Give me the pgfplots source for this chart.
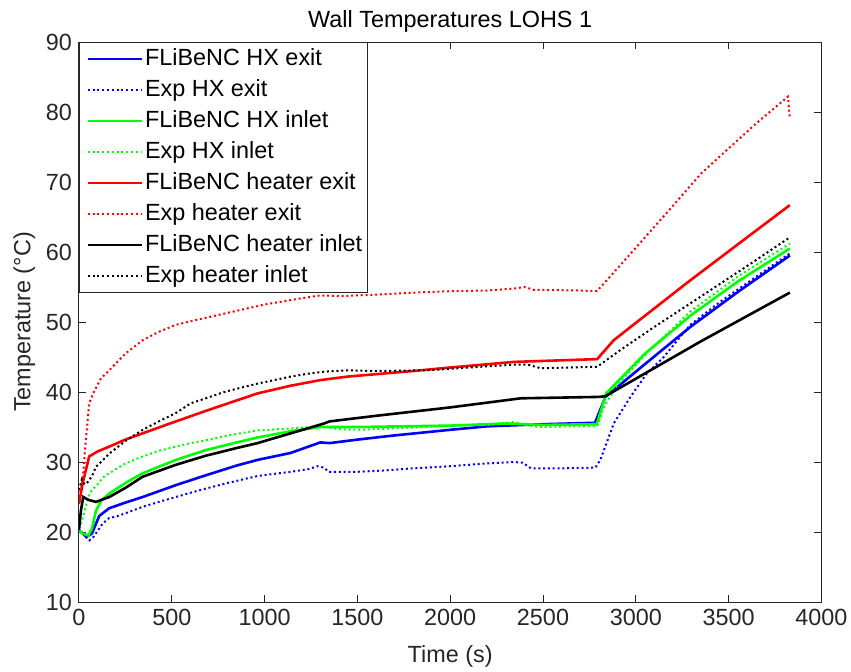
\documentclass[border=0pt]{standalone}
\usepackage{fontspec}
\setmainfont{Liberation Sans}
\usepackage{pgfplots}
\pgfplotsset{compat=1.18}
\definecolor{axgray}{RGB}{38,38,38}
\definecolor{mblue}{RGB}{0,0,255}
\definecolor{mgreen}{RGB}{0,255,0}
\definecolor{mred}{RGB}{255,0,0}
\newcommand{\ff}{\fontsize{11.7}{14}\selectfont}
\begin{document}
\begin{tikzpicture}
\useasboundingbox (-39.5pt,-34.5pt) rectangle (386pt,301pt);
\begin{axis}[
  at={(0,0)}, anchor=south west,
  scale only axis, width=371.2pt, height=280pt,
  xmin=0, xmax=4000, ymin=10, ymax=90,
  xtick={0,500,...,4000}, ytick={10,20,...,90},
  tick align=inside, major tick length=3.7pt,
  axis line style={axgray, line width=0.5pt},
  every tick/.style={axgray, line width=0.5pt},
  tick label style={font=\ff, text=axgray},
  /pgf/number format/assume math mode=true,
  /pgf/number format/1000 sep={},
  scaled ticks=false,
  title={Wall Temperatures LOHS 1},
  every axis title/.style={at={([yshift=7.3pt]axis description cs:0.5,1)}, anchor=base, font=\ff, text=black, inner sep=0pt},
  xlabel={Time (s)},
  every axis x label/.style={at={([yshift=-30pt]axis description cs:0.5,0)}, anchor=base, font=\ff, text=axgray, inner sep=0pt},
  ylabel={Temperature (°C)},
  every axis y label/.style={at={([xshift=-24.3pt]axis description cs:0,0.5)}, rotate=90, anchor=base, font=\ff, text=axgray, inner sep=0pt},
  legend cell align=left,
  legend style={at={(0,1)}, anchor=north west, draw=axgray, line width=0.5pt, fill=white,
    font=\ff, text=black, inner xsep=1.4pt, inner ysep=0.5pt, row sep=0pt,
    nodes={text height=8.7pt, text depth=2.6pt, inner ysep=2.1pt, inner xsep=1pt}},
  legend image code/.code={\path (0pt,0pt); \draw[#1] (2.1pt,0pt) -- (29.1pt,0pt);},
  solid line/.style={line width=1.3pt, solid},
  dot line/.style={line width=1pt, dash pattern=on 1pt off 1.4pt},
]
% FLiBeNC HX exit
\addplot[mblue, solid line] coordinates {
(0,20.2) (20,19.8) (40,19.3) (70,19.8) (109,22.3) (163,23.4) (250,24.2) (343,25.0) (522,26.7) (683,28.1) (850,29.5) (962,30.3) (1141,31.3) (1300,32.8) (1350,32.7) (1500,33.2) (1700,33.8) (2000,34.6) (2200,35.1) (2500,35.4) (2780,35.6) (2836,39.3) (3050,44.0) (3294,49.3) (3550,54.3) (3830,59.5)
};
\addlegendentry{FLiBeNC HX exit}
% Exp HX exit
\addplot[mblue, dot line] coordinates {
(0,20.3) (30,19.5) (55,18.8) (75,19.2) (91,19.8) (127,21.2) (163,22.0) (200,22.2) (253,22.7) (343,23.6) (430,24.3) (522,25.0) (600,25.6) (683,26.2) (800,27.0) (962,28.0) (1050,28.3) (1141,28.6) (1240,29.0) (1285,29.4) (1320,29.2) (1345,28.6) (1500,28.6) (1650,28.8) (1800,29.1) (2000,29.4) (2200,29.8) (2343,30.0) (2390,29.9) (2435,29.1) (2600,29.1) (2782,29.2) (2809,30.3) (2881,35.5) (2971,39.3) (3061,42.7) (3151,45.0) (3240,47.9) (3294,49.6) (3450,52.8) (3650,56.5) (3830,59.8)
};
\addlegendentry{Exp HX exit}
% FLiBeNC HX inlet
\addplot[mgreen, solid line] coordinates {
(0,20.2) (20,19.8) (50,19.5) (70,20.5) (91,23.0) (120,24.5) (163,25.5) (250,27.0) (343,28.4) (522,30.3) (683,31.7) (850,32.8) (962,33.5) (1141,34.4) (1300,35.0) (1500,35.0) (2000,35.2) (2300,35.5) (2500,35.3) (2790,35.4) (2840,39.8) (3050,45.5) (3294,50.9) (3550,55.8) (3830,60.5)
};
\addlegendentry{FLiBeNC HX inlet}
% Exp HX inlet
\addplot[mgreen, dot line] coordinates {
(0,20.5) (15,21.5) (30,23) (50,25) (70,26) (100,26.8) (130,27.8) (163,28.4) (250,29.8) (343,30.8) (430,31.6) (522,32.2) (600,32.7) (683,33.1) (800,33.8) (962,34.5) (1141,34.8) (1300,35.1) (1400,34.7) (1500,34.6) (1700,34.8) (2000,35.2) (2200,35.3) (2343,35.7) (2420,35.2) (2487,35.0) (2650,35.1) (2792,35.1) (2830,38.0) (2900,41.0) (3050,45.3) (3294,51.5) (3550,56.5) (3830,61.2)
};
\addlegendentry{Exp HX inlet}
% FLiBeNC heater exit
\addplot[mred, solid line] coordinates {
(0,24.0) (20,27.0) (55,30.8) (100,31.5) (163,32.2) (250,33.2) (343,34.1) (522,35.8) (683,37.3) (850,38.8) (962,39.8) (1141,40.9) (1300,41.7) (1446,42.2) (1800,43.0) (2000,43.5) (2343,44.3) (2792,44.7) (2881,47.4) (3276,55.6) (3550,61.1) (3830,66.7)
};
\addlegendentry{FLiBeNC heater exit}
% Exp heater exit
\addplot[mred, dot line] coordinates {
(0,25.0) (10,26) (20,27.5) (30,31) (40,34) (55,38.4) (80,40.0) (120,42.0) (163,43.1) (250,45.5) (343,47.4) (430,48.6) (522,49.6) (600,50.1) (683,50.6) (850,51.6) (1000,52.5) (1200,53.4) (1300,53.8) (1400,53.7) (1600,53.9) (1800,54.2) (2000,54.4) (2200,54.5) (2350,54.8) (2400,55.0) (2450,54.6) (2700,54.5) (2790,54.4) (2845,56.0) (3000,60.6) (3200,66.6) (3351,71.2) (3500,74.8) (3650,78.4) (3820,82.2) (3825,80.5) (3830,79.0)
};
\addlegendentry{Exp heater exit}
% FLiBeNC heater inlet
\addplot[black, solid line] coordinates {
(0,20.3) (10,23) (23,25.0) (50,24.6) (91,24.3) (163,25.0) (250,26.3) (343,27.9) (522,29.6) (683,30.9) (850,32.0) (962,32.7) (1141,34.1) (1320,35.5) (1350,35.8) (1600,36.6) (2000,37.8) (2380,39.1) (2800,39.3) (2836,39.4) (3348,47.2) (3830,54.2)
};
\addlegendentry{FLiBeNC heater inlet}
% Exp heater inlet
\addplot[black, dot line] coordinates {
(0,26.0) (15,27.5) (30,26.8) (50,27.2) (70,28.0) (91,29.3) (130,30.3) (163,31.2) (250,33.0) (343,34.6) (430,35.8) (522,37.0) (603,38.4) (683,39.1) (782,40.0) (870,40.6) (962,41.2) (1050,41.7) (1141,42.2) (1230,42.6) (1320,42.9) (1446,43.1) (1600,43.0) (1877,43.1) (2100,43.5) (2343,43.9) (2420,43.9) (2487,43.4) (2650,43.5) (2792,43.6) (2917,46.0) (3100,49.3) (3348,53.6) (3600,58.0) (3830,62.1)
};
\addlegendentry{Exp heater inlet}
\end{axis}
\end{tikzpicture}
\end{document}
